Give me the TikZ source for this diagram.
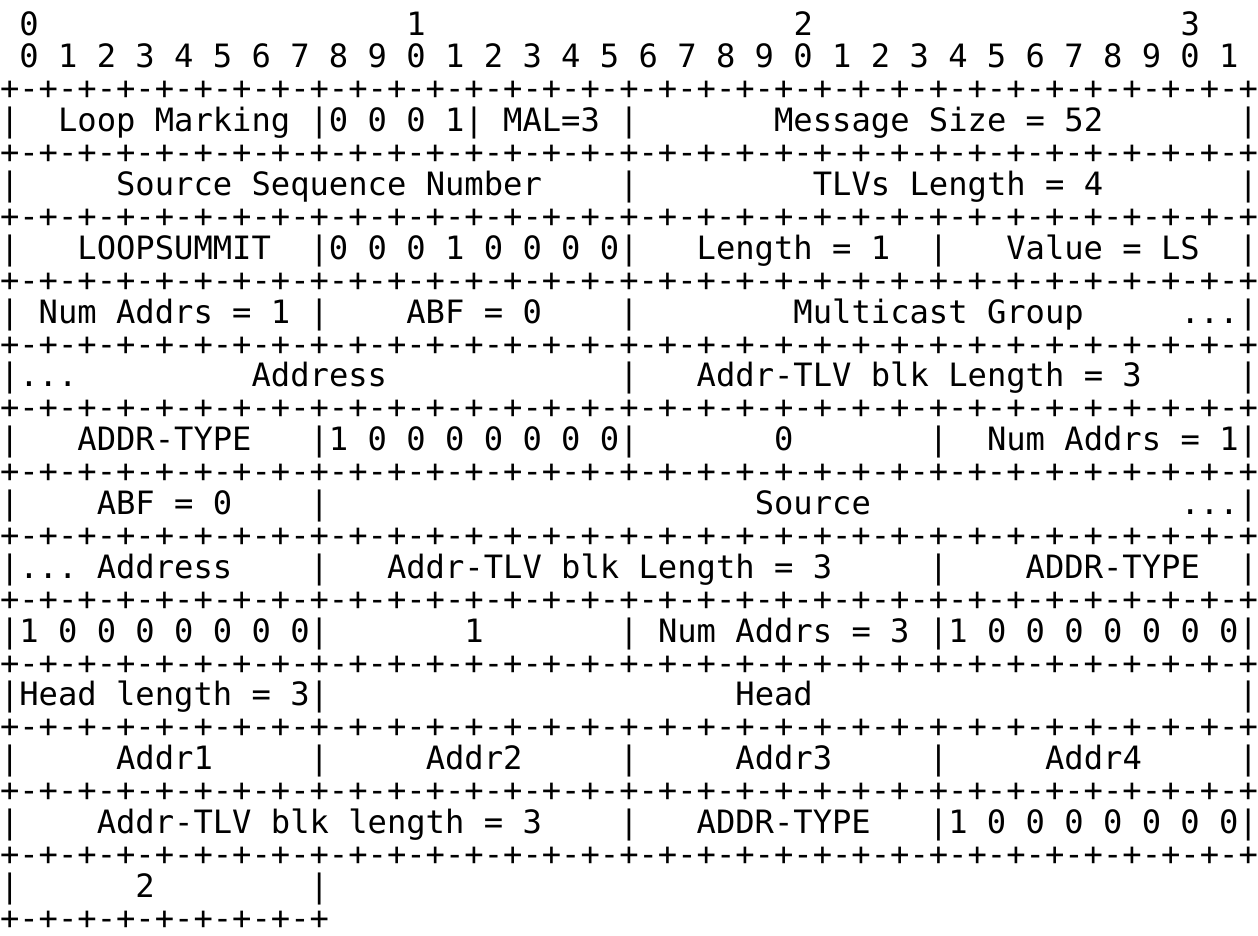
\documentclass[tikz,border=0pt]{standalone}
\usepackage{fontspec}
\setmonofont{DejaVu Sans Mono}
\frenchspacing
\newlength\cw
\setlength\cw{19.3538pt}
\newcommand\gap[1]{\kern#1\cw}
\newcommand\plusrow{+-+-+-+-+-+-+-+-+-+-+-+-+-+-+-+-+-+-+-+-+-+-+-+-+-+-+-+-+-+-+-+-+}
\newcommand\rowfont{\ttfamily\fontsize{32.146}{32}\selectfont}
\def\yb{36}
\def\lp{31.9}
\begin{document}
\begin{tikzpicture}[x=1pt,y=1pt,
  row/.style={anchor=base west, inner sep=0pt, outer sep=0pt, font=\rowfont}]
\useasboundingbox (0,0) rectangle (1258,-936);
\fill[white] (0,0) rectangle (1258,-936);
\node[row] (l0)  at (0,{-\yb-0*\lp})  {\gap{1}0\gap{19}1\gap{19}2\gap{19}3};
\node[row] (l1)  at (0,{-\yb-1*\lp})  {\gap{1}0 1 2 3 4 5 6 7 8 9 0 1 2 3 4 5 6 7 8 9 0 1 2 3 4 5 6 7 8 9 0 1};
\node[row] (l2)  at (0,{-\yb-2*\lp})  {\plusrow};
\node[row] (l3)  at (0,{-\yb-3*\lp})  {|\gap{2}Loop Marking |0 0 0 1| MAL=3 |\gap{7}Message Size = 52\gap{7}|};
\node[row] (l4)  at (0,{-\yb-4*\lp})  {\plusrow};
\node[row] (l5)  at (0,{-\yb-5*\lp})  {|\gap{5}Source Sequence Number\gap{4}|\gap{9}TLVs Length = 4\gap{7}|};
\node[row] (l6)  at (0,{-\yb-6*\lp})  {\plusrow};
\node[row] (l7)  at (0,{-\yb-7*\lp})  {|\gap{3}LOOPSUMMIT\gap{2}|0 0 0 1 0 0 0 0|\gap{3}Length = 1\gap{2}|\gap{3}Value = LS\gap{2}|};
\node[row] (l8)  at (0,{-\yb-8*\lp})  {\plusrow};
\node[row] (l9)  at (0,{-\yb-9*\lp})  {| Num Addrs = 1 |\gap{4}ABF = 0\gap{4}|\gap{8}Multicast Group\gap{5}...|};
\node[row] (l10) at (0,{-\yb-10*\lp}) {\plusrow};
\node[row] (l11) at (0,{-\yb-11*\lp}) {|...\gap{9}Address\gap{12}|\gap{3}Addr-TLV blk Length = 3\gap{5}|};
\node[row] (l12) at (0,{-\yb-12*\lp}) {\plusrow};
\node[row] (l13) at (0,{-\yb-13*\lp}) {|\gap{3}ADDR-TYPE\gap{3}|1 0 0 0 0 0 0 0|\gap{7}0\gap{7}|\gap{2}Num Addrs = 1|};
\node[row] (l14) at (0,{-\yb-14*\lp}) {\plusrow};
\node[row] (l15) at (0,{-\yb-15*\lp}) {|\gap{4}ABF = 0\gap{4}|\gap{22}Source\gap{16}...|};
\node[row] (l16) at (0,{-\yb-16*\lp}) {\plusrow};
\node[row] (l17) at (0,{-\yb-17*\lp}) {|... Address\gap{4}|\gap{3}Addr-TLV blk Length = 3\gap{5}|\gap{4}ADDR-TYPE\gap{2}|};
\node[row] (l18) at (0,{-\yb-18*\lp}) {\plusrow};
\node[row] (l19) at (0,{-\yb-19*\lp}) {|1 0 0 0 0 0 0 0|\gap{7}1\gap{7}| Num Addrs = 3 |1 0 0 0 0 0 0 0|};
\node[row] (l20) at (0,{-\yb-20*\lp}) {\plusrow};
\node[row] (l21) at (0,{-\yb-21*\lp}) {|Head length = 3|\gap{21}Head\gap{22}|};
\node[row] (l22) at (0,{-\yb-22*\lp}) {\plusrow};
\node[row] (l23) at (0,{-\yb-23*\lp}) {|\gap{5}Addr1\gap{5}|\gap{5}Addr2\gap{5}|\gap{5}Addr3\gap{5}|\gap{5}Addr4\gap{5}|};
\node[row] (l24) at (0,{-\yb-24*\lp}) {\plusrow};
\node[row] (l25) at (0,{-\yb-25*\lp}) {|\gap{4}Addr-TLV blk length = 3\gap{4}|\gap{3}ADDR-TYPE\gap{3}|1 0 0 0 0 0 0 0|};
\node[row] (l26) at (0,{-\yb-26*\lp}) {\plusrow};
\node[row] (l27) at (0,{-\yb-27*\lp}) {|\gap{6}2\gap{8}|};
\node[row] (l28) at (0,{-\yb-28*\lp}) {+-+-+-+-+-+-+-+-+};
\end{tikzpicture}
\end{document}
